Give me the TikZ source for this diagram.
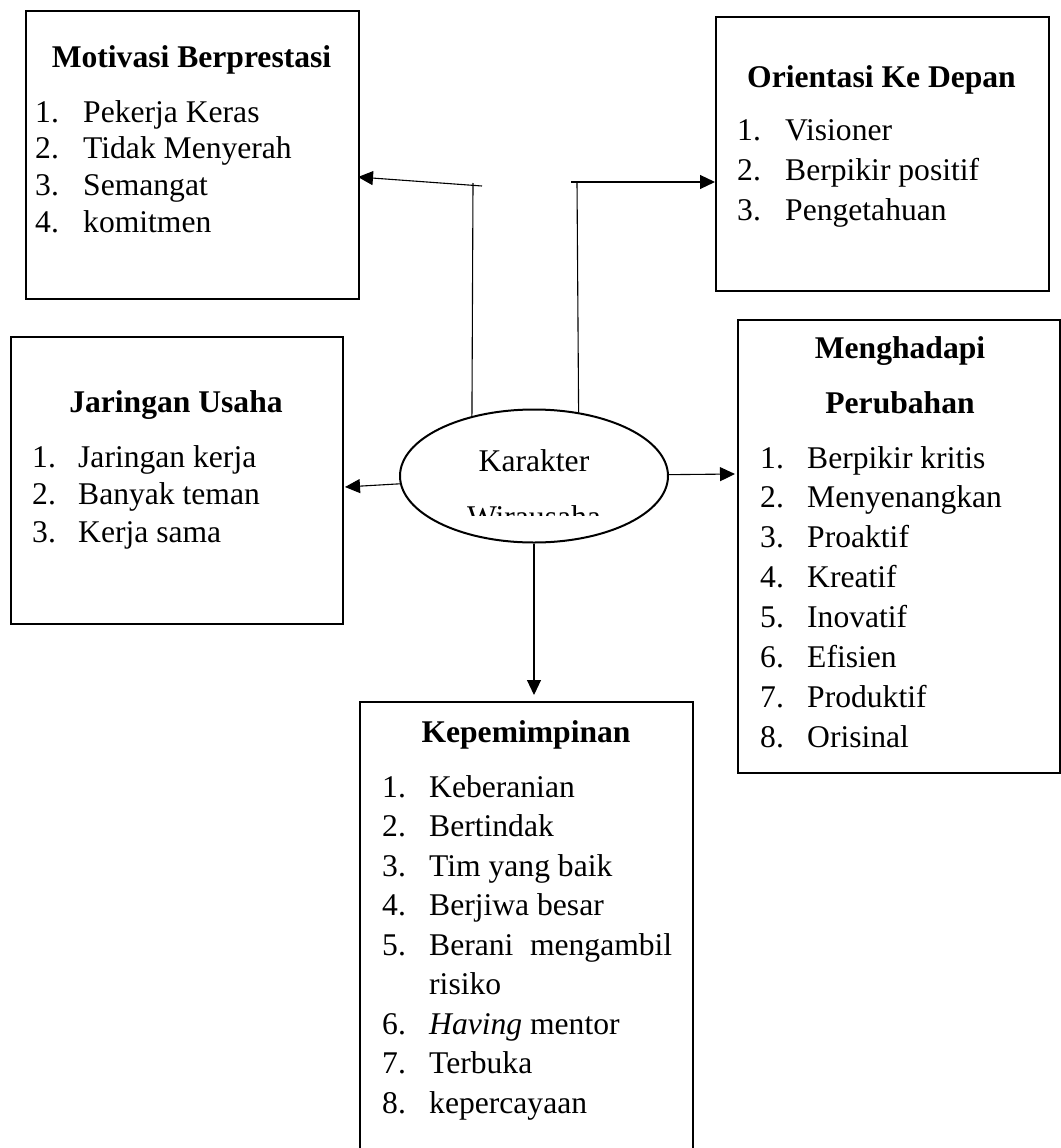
\documentclass[tikz,border=0pt]{standalone}
\usepackage{fontspec}
\setmainfont{Liberation Serif}
\usetikzlibrary{arrows.meta,shapes.geometric}
\newcommand\dfs{\fontsize{31.6}{36.7}\selectfont}
\begin{document}
\begin{tikzpicture}[x=1pt,y=-1pt,
  box/.style={draw,line width=2pt,rectangle,inner sep=0pt,anchor=north west},
  conn/.style={line width=1.1pt},
  arr/.style={conn,-{Triangle[length=15pt,width=14pt]}},
  txt/.style={inner sep=0pt,anchor=base west,font=\dfs},
  ttl/.style={inner sep=0pt,anchor=base,font=\dfs\bfseries},
  ctxt/.style={inner sep=0pt,anchor=base,font=\dfs}]
\useasboundingbox (0,0) rectangle (1060,1148);

% boxes
\node[box,minimum width=333pt,minimum height=288pt] (bMot) at (25,10) {};
\node[box,minimum width=333pt,minimum height=274pt] (bOri) at (715,16) {};
\node[box,minimum width=332pt,minimum height=287pt] (bJar) at (10,336) {};
\node[box,minimum width=322pt,minimum height=453pt] (bMen) at (737,319) {};
\node[box,minimum width=333pt,minimum height=470pt] (bKep) at (359,701) {};

% ellipse
\node[draw,ellipse,line width=2pt,fill=white,minimum width=268pt,minimum height=133pt,inner sep=0pt] (ell) at (534,476) {};
\node[ctxt] (karakter) at (534,471) {Karakter};
\begin{scope}
  \clip (440,490) rectangle (630,515);
  \node[ctxt] (wira) at (534,527) {Wirausaha};
\end{scope}

% Motivasi Berprestasi
\node[ttl] (tMotT) at (191.5,67) {Motivasi Berprestasi};
\foreach \t [count=\i] in {Pekerja Keras, Tidak Menyerah, Semangat, komitmen}{
  \node[txt] (motN\i) at (35,{122+36.7*(\i-1)}) {\i.};
  \node[txt] (motT\i) at (83,{122+36.7*(\i-1)}) {\t};
}

% Orientasi Ke Depan
\node[ttl] (tOriT) at (881.5,87) {Orientasi Ke Depan};
\foreach \t [count=\i] in {Visioner, Berpikir positif, Pengetahuan}{
  \node[txt] (oriN\i) at (737,{140+40*(\i-1)}) {\i.};
  \node[txt] (oriT\i) at (785,{140+40*(\i-1)}) {\t};
}

% Jaringan Usaha
\node[ttl] (tJarT) at (176,412) {Jaringan Usaha};
\foreach \t [count=\i] in {Jaringan kerja, Banyak teman, Kerja sama}{
  \node[txt] (jarN\i) at (32,{467+37.5*(\i-1)}) {\i.};
  \node[txt] (jarT\i) at (78,{467+37.5*(\i-1)}) {\t};
}

% Menghadapi Perubahan
\node[ttl] (tMenT1) at (900,358) {Menghadapi};
\node[ttl] (tMenT2) at (900,413) {Perubahan};
\foreach \t [count=\i] in {Berpikir kritis, Menyenangkan, Proaktif, Kreatif, Inovatif, Efisien, Produktif, Orisinal}{
  \node[txt] (menN\i) at (760,{468+39.9*(\i-1)}) {\i.};
  \node[txt] (menT\i) at (807,{468+39.9*(\i-1)}) {\t};
}

% Kepemimpinan
\node[ttl] (tKepT) at (526,742) {Kepemimpinan};
\foreach \n/\r in {1/0,2/1,3/2,4/3,5/4,6/6,7/7,8/8}{
  \node[txt] (kepN\n) at (382,{797+39.5*\r}) {\n.};
}
\node[txt] (kepT1) at (429,797) {Keberanian};
\node[txt] (kepT2) at (429,836.5) {Bertindak};
\node[txt] (kepT3) at (429,876) {Tim yang baik};
\node[txt] (kepT4) at (429,915.5) {Berjiwa besar};
\node[txt] (kepT5) at (429,955) {\hbox to 243pt{Berani\hfill mengambil}};
\node[txt] (kepT5b) at (429,994.5) {risiko};
\node[txt] (kepT6) at (429,1034) {\textit{Having} mentor};
\node[txt] (kepT7) at (429,1073.5) {Terbuka};
\node[txt] (kepT8) at (429,1113) {kepercayaan};

% connectors
\coordinate (vL) at (473,183);
\coordinate (hL) at (482,186);
\coordinate (tMot) at (358,177);
\coordinate (vR) at (577,182);
\coordinate (hR) at (571,182);
\coordinate (tOri) at (715,182);
\coordinate (tJar) at (345,487);
\coordinate (tMen) at (735,474);
\coordinate (tKep) at (534,695);

\draw[conn] (ell.136) -- (vL);
\draw[arr] (hL) -- (tMot);
\draw[conn] (ell.55) -- (vR);
\draw[arr] (hR) -- (tOri);
\draw[arr] (ell) -- (tJar);
\draw[arr] (ell) -- (tMen);
\draw[arr] (ell) -- (tKep);
\end{tikzpicture}
\end{document}
